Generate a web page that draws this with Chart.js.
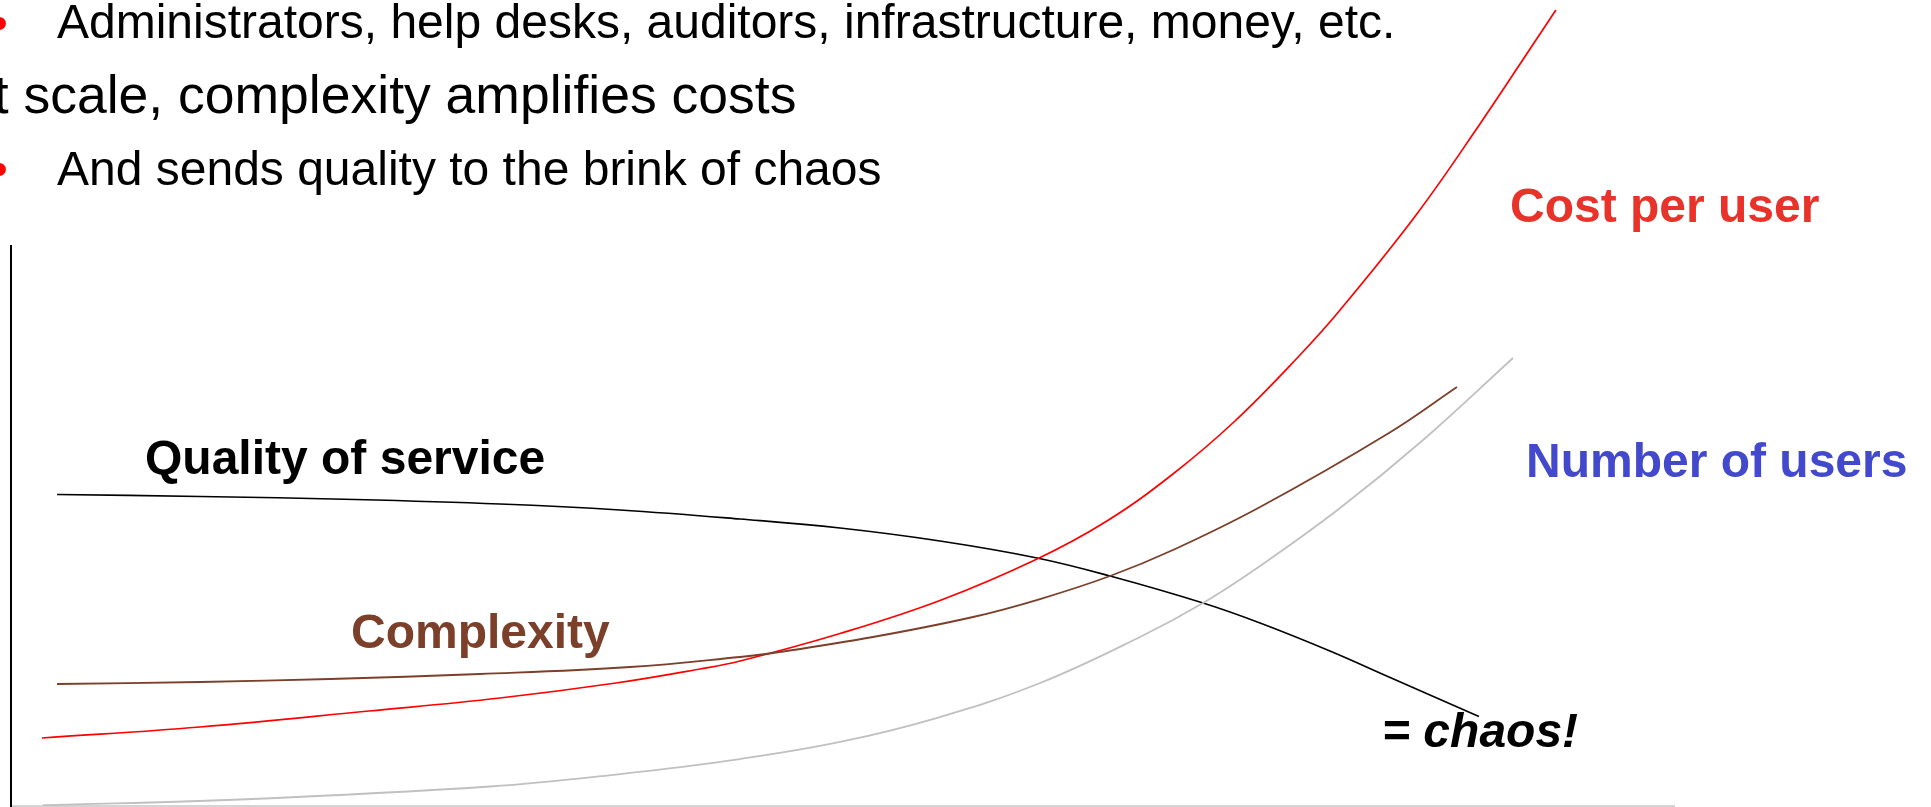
<!DOCTYPE html>
<html>
<head>
<meta charset="utf-8">
<script src="https://cdn.jsdelivr.net/npm/chart.js@4.4.0/dist/chart.umd.min.js"></script>
<style>
  html, body { margin: 0; padding: 0; background: #ffffff; overflow: hidden; }
  #wrap { width: 1931px; height: 807px; position: relative; }
  canvas { display: block; }
</style>
</head>
<body>
<div id="wrap"><canvas id="c" width="1931" height="807"></canvas></div>
<script>
// ---- Data (x: position along the horizontal axis 0..100, y: level 0..100 of the plotted frame) ----
const qualityX    = [2.77, 11.37, 20.69, 29.40, 36.62, 43.84, 49.85, 55.86, 61.70, 66.09, 71.68, 75.11, 79.31, 82.86, 88.27];
const qualityY    = [55.63, 55.27, 54.73, 53.93, 52.86, 51.25, 49.64, 47.32, 44.29, 41.07, 36.25, 32.68, 27.68, 23.04, 15.98];

const complexityX = [2.77, 11.37, 19.18, 28.20, 37.22, 43.84, 45.82, 51.83, 57.85, 61.88, 66.09, 69.87, 75.11, 82.86, 86.95];
const complexityY = [21.79, 22.14, 22.68, 23.57, 24.82, 26.61, 27.32, 30.18, 33.75, 36.96, 41.07, 45.71, 53.39, 66.61, 74.82];

const costX       = [1.86, 11.37, 21.53, 29.40, 36.38, 41.43, 43.84, 49.85, 55.86, 61.70, 65.90, 69.87, 73.60, 77.51, 79.92, 84.49, 88.33, 91.70, 92.90];
const costY       = [12.14, 14.11, 16.96, 19.29, 21.96, 24.46, 25.89, 30.80, 36.70, 44.11, 50.89, 59.29, 68.75, 80.54, 88.57, 105.54, 121.79, 136.79, 142.14];

const usersX      = [1.92, 13.77, 28.80, 36.62, 43.84, 49.85, 55.86, 61.88, 67.89, 71.68, 75.11, 79.92, 84.91, 90.32];
const usersY      = [0.14, 1.16, 3.48, 5.71, 8.39, 11.43, 15.89, 21.96, 30.18, 36.25, 42.86, 53.21, 65.36, 80.00];

const seriesNames = ["Quality of service", "Complexity", "Cost per user", "Number of users"];
const chaosLabel  = "= chaos!";
const headingLines = [
  "Administrators, help desks, auditors, infrastructure, money, etc.",
  "At scale, complexity amplifies costs",
  "And sends quality to the brink of chaos"
];

// ---- Build datasets ----
function pts(xs, ys) { return xs.map((x, i) => ({ x: x, y: ys[i] })); }

const FONT = '"Liberation Sans", Arial, Helvetica, sans-serif';

const slideText = {
  id: 'slideText',
  afterDraw(chart) {
    const ctx = chart.ctx;
    ctx.save();
    ctx.textBaseline = 'alphabetic';
    ctx.textAlign = 'left';

    // red bullets
    ctx.fillStyle = '#ff0000';
    ctx.font = '48px ' + FONT;
    ctx.fillText('\u2022', -9, 39);
    ctx.fillText('\u2022', -9, 185);

    // heading lines
    ctx.fillStyle = '#000000';
    ctx.fillText(headingLines[0], 57, 38);
    ctx.fillText(headingLines[2], 57, 185);
    ctx.font = '53.5px ' + FONT;
    ctx.fillText(headingLines[1], -42, 113);

    // curve labels
    ctx.font = 'bold 48px ' + FONT;
    ctx.fillStyle = '#000000';
    ctx.fillText(seriesNames[0], 145, 474);
    ctx.fillStyle = '#7b3f2a';
    ctx.fillText(seriesNames[1], 351, 648);
    ctx.fillStyle = '#e8332a';
    ctx.fillText(seriesNames[2], 1510, 222);
    ctx.fillStyle = '#4349cc';
    ctx.fillText(seriesNames[3], 1526, 477);

    ctx.fillStyle = '#000000';
    ctx.font = 'italic bold 48px ' + FONT;
    ctx.fillText(chaosLabel, 1382, 747);
    ctx.restore();
  }
};

const common = { pointRadius: 0, fill: false, tension: 0.4, clip: false };

new Chart(document.getElementById('c'), {
  type: 'line',
  data: {
    datasets: [
      Object.assign({ label: seriesNames[3], data: pts(usersX, usersY), borderColor: '#c0c0c0', borderWidth: 1.8 }, common),
      Object.assign({ label: seriesNames[1], data: pts(complexityX, complexityY), borderColor: '#7b3f2a', borderWidth: 1.8 }, common),
      Object.assign({ label: seriesNames[2], data: pts(costX, costY), borderColor: '#ff0000', borderWidth: 1.7 }, common),
      Object.assign({ label: seriesNames[0], data: pts(qualityX, qualityY), borderColor: '#000000', borderWidth: 1.6 }, common)
    ]
  },
  options: {
    responsive: false,
    animation: false,
    devicePixelRatio: 1,
    layout: { padding: { left: 11, top: 246, right: 257, bottom: 1 } },
    plugins: { legend: { display: false }, tooltip: { enabled: false }, title: { display: false } },
    scales: {
      x: {
        type: 'linear', min: 0, max: 100,
        grid: { display: false, drawTicks: false },
        ticks: { display: false },
        border: { display: true, color: '#d4d4d4', width: 2 }
      },
      y: {
        type: 'linear', min: 0, max: 100,
        grid: { display: false, drawTicks: false },
        ticks: { display: false },
        border: { display: true, color: '#000000', width: 2 }
      }
    }
  },
  plugins: [slideText]
});
</script>
</body>
</html>
